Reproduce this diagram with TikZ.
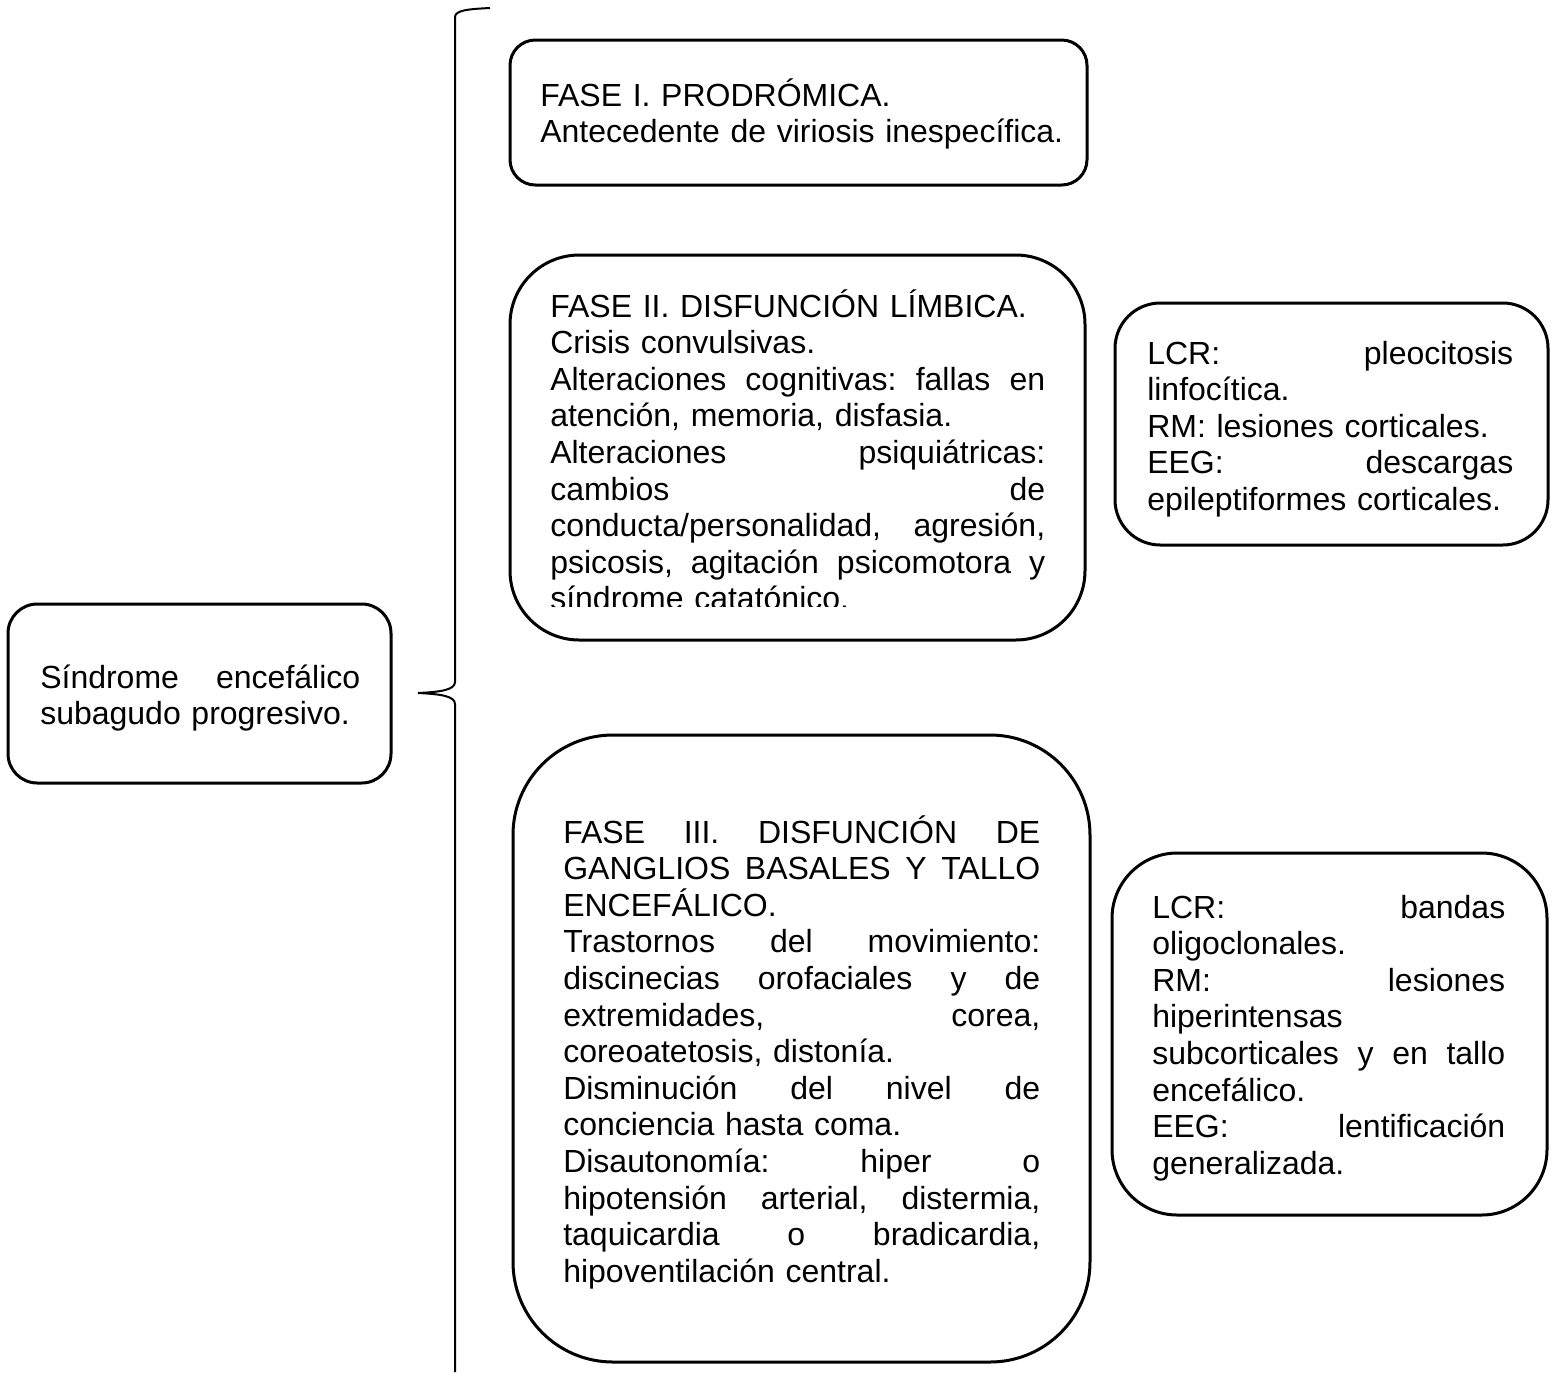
\documentclass[tikz,border=0pt]{standalone}
\usepackage{fontspec}
\setmainfont{Liberation Sans}
\newcommand{\jline}[1]{\hbox to \hsize{\spaceskip=0.28em plus 10em\relax #1}\par}
\newcommand{\lline}[1]{\mbox{#1}\par}
\begin{document}
\begin{tikzpicture}[x=0.75pt,y=-0.75pt,
  box/.style={draw,line width=2.25pt,inner sep=0pt},
  txt/.style={anchor=base west,inner sep=0pt,align=left,
    font=\fontsize{24pt}{27.45pt}\selectfont\frenchspacing},
  brace/.style={draw,line width=1.5pt}]
\useasboundingbox (0,0) rectangle (1557,1372);
% boxes
\node[box,minimum width=287.25pt,minimum height=134.25pt,rounded corners=22pt] (main) at (199.5,693.5) {};
\node[box,minimum width=432.75pt,minimum height=108.75pt,rounded corners=19pt] (f1) at (798.5,112.5) {};
\node[box,minimum width=431.25pt,minimum height=288.75pt,rounded corners=52pt] (f2) at (797.5,447.5) {};
\node[box,minimum width=324.75pt,minimum height=181.5pt,rounded corners=34pt] (l1) at (1331.5,424) {};
\node[box,minimum width=432.75pt,minimum height=470.25pt,rounded corners=75pt] (f3) at (801.5,1048.5) {};
\node[box,minimum width=326.25pt,minimum height=271.5pt,rounded corners=49pt] (l2) at (1329.5,1034) {};
% texts
\node[txt,text width=240pt] (tmain) at (40,688) {%
\jline{Síndrome encefálico}\lline{subagudo progresivo.}};
\node[txt,text width=400pt] (tf1) at (540,106) {%
\lline{FASE I. PRODRÓMICA.}\lline{Antecedente de viriosis inespecífica.}};
\begin{scope}
\clip (500,250) rectangle (1100,606);
\node[txt,text width=371.25pt] (tf2) at (550,317) {%
\lline{FASE II. DISFUNCIÓN LÍMBICA.}\lline{Crisis convulsivas.}%
\jline{Alteraciones cognitivas: fallas en}\lline{atención, memoria, disfasia.}%
\jline{Alteraciones psiquiátricas:}\jline{cambios de}%
\jline{conducta/personalidad, agresión,}\jline{psicosis, agitación psicomotora y}%
\lline{síndrome catatónico.}};
\end{scope}
\node[txt,text width=274.5pt] (tl1) at (1147,364) {%
\jline{LCR: pleocitosis}\lline{linfocítica.}\lline{RM: lesiones corticales.}%
\jline{EEG: descargas}\lline{epileptiformes corticales.}};
\node[txt,text width=357.75pt] (tf3) at (563,843) {%
\jline{FASE III. DISFUNCIÓN DE}\jline{GANGLIOS BASALES Y TALLO}\lline{ENCEFÁLICO.}%
\jline{Trastornos del movimiento:}\jline{discinecias orofaciales y de}%
\jline{extremidades, corea,}\lline{coreoatetosis, distonía.}%
\jline{Disminución del nivel de}\lline{conciencia hasta coma.}%
\jline{Disautonomía: hiper o}\jline{hipotensión arterial, distermia,}%
\jline{taquicardia o bradicardia,}\lline{hipoventilación central.}};
\node[txt,text width=264.75pt] (tl2) at (1152,918) {%
\jline{LCR: bandas}\lline{oligoclonales.}\jline{RM: lesiones}\lline{hiperintensas}%
\jline{subcorticales y en tallo}\lline{encefálico.}\jline{EEG: lentificación}%
\lline{generalizada.}};
% brace
\coordinate (btop) at (490,8);
\coordinate (tip) at (418,693);
\coordinate (bbot) at (455,1372);
\draw[brace] (btop) .. controls (470,9) and (455,10) .. (455,17) -- (455,682)
  .. controls (455,690) and (440,692) .. (tip)
  .. controls (440,694) and (455,696) .. (455,704) -- (bbot);
\end{tikzpicture}
\end{document}
